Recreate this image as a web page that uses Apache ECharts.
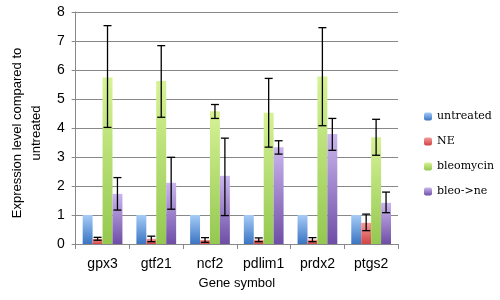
<!DOCTYPE html>
<html>
<head>
<meta charset="utf-8">
<script src="https://cdn.jsdelivr.net/npm/echarts@6/dist/echarts.min.js"></script>
<style>
html, body { margin: 0; padding: 0; background: #fff; }
#chart { width: 500px; height: 300px; }
</style>
</head>
<body>
<div id="chart"></div>
<script>
var genes = ['gpx3', 'gtf21', 'ncf2', 'pdlim1', 'prdx2', 'ptgs2'];

var untreated = [1, 1, 1, 1, 1, 1];

var ne = [0.18, 0.18, 0.14, 0.15, 0.15, 0.73];
var neLow = [0.13, 0.08, 0.06, 0.08, 0.08, 0.46];
var neHigh = [0.23, 0.27, 0.22, 0.21, 0.22, 1.03];

var bleomycin = [5.74, 5.62, 4.58, 4.53, 5.78, 3.68];
var bleomycinLow = [4.02, 4.37, 4.33, 3.34, 4.08, 3.06];
var bleomycinHigh = [7.53, 6.84, 4.81, 5.71, 7.46, 4.30];

var bleoNe = [1.73, 2.11, 2.35, 3.34, 3.79, 1.42];
var bleoNeLow = [1.17, 1.20, 0.98, 3.10, 3.23, 1.08];
var bleoNeHigh = [2.29, 2.99, 3.65, 3.56, 4.33, 1.79];

var yTicks = [0, 1, 2, 3, 4, 5, 6, 7, 8];

// bar group layout, shared by bars and error bars
var BAR_COUNT = 4;
var CAT_GAP = 0.26;

function grad(top, bottom) {
    return new echarts.graphic.LinearGradient(0, 0, 0, 1, [
        { offset: 0, color: top },
        { offset: 1, color: bottom }
    ]);
}

function errorSeries(name, barIndex, low, high) {
    var data = [];
    for (var i = 0; i < genes.length; i++) {
        data.push([i, low[i], high[i]]);
    }
    return {
        name: name,
        type: 'custom',
        z: 10,
        silent: true,
        data: data,
        encode: { x: 0, y: [1, 2] },
        renderItem: function (params, api) {
            var cat = api.value(0);
            var lo = api.coord([cat, api.value(1)]);
            var hi = api.coord([cat, api.value(2)]);
            var band = api.size([1, 0])[0];
            var total = band * (1 - CAT_GAP);
            var w = total / BAR_COUNT;
            var x = lo[0] - total / 2 + w * (barIndex + 0.5);
            var cap = 4;
            var style = { stroke: '#000', lineWidth: 1.3 };
            return {
                type: 'group',
                children: [
                    { type: 'line', shape: { x1: x, y1: hi[1], x2: x, y2: lo[1] }, style: style },
                    { type: 'line', shape: { x1: x - cap, y1: hi[1], x2: x + cap, y2: hi[1] }, style: style },
                    { type: 'line', shape: { x1: x - cap, y1: lo[1], x2: x + cap, y2: lo[1] }, style: style }
                ]
            };
        }
    };
}

function barSeries(name, values, color) {
    return {
        name: name,
        type: 'bar',
        data: values,
        barGap: '0%',
        barCategoryGap: (CAT_GAP * 100) + '%',
        itemStyle: { color: color },
        silent: true
    };
}

var chart = echarts.init(document.getElementById('chart'));

var option = {
    animation: false,
    backgroundColor: '#fff',
    grid: { left: 64, right: 102, top: 12, bottom: 56 },
    legend: {
        orient: 'vertical',
        left: 419,
        top: 106,
        itemWidth: 8,
        itemHeight: 8,
        itemGap: 14,
        data: ['untreated', 'NE', 'bleomycin', 'bleo->ne'],
        textStyle: { fontFamily: 'DejaVu Serif', fontSize: 11, color: '#000' }
    },
    xAxis: {
        type: 'category',
        data: genes,
        name: 'Gene symbol',
        nameLocation: 'middle',
        nameGap: 33,
        nameTextStyle: { fontFamily: 'Liberation Sans', fontSize: 13, color: '#000' },
        axisLine: { lineStyle: { color: '#888' } },
        axisTick: { show: true, length: 5, lineStyle: { color: '#888' } },
        axisLabel: { fontFamily: 'Liberation Sans', fontSize: 14, color: '#000', margin: 13 }
    },
    yAxis: {
        type: 'value',
        min: yTicks[0],
        max: yTicks[yTicks.length - 1],
        interval: 1,
        name: 'Expression level compared to\nuntreated',
        nameLocation: 'middle',
        nameRotate: 90,
        nameGap: 29,
        nameTextStyle: { fontFamily: 'Liberation Sans', fontSize: 13, color: '#000', lineHeight: 19, padding: [0, 10, 0, 0] },
        axisLine: { show: true, lineStyle: { color: '#888' } },
        axisTick: { show: true, length: 4, lineStyle: { color: '#888' } },
        axisLabel: { fontFamily: 'Liberation Sans', fontSize: 14, color: '#000', margin: 11 },
        splitLine: { lineStyle: { color: '#888', width: 1 } }
    },
    series: [
        barSeries('untreated', untreated, grad('#a6ccf8', '#3a74c2')),
        barSeries('NE', ne, grad('#f49a9a', '#d04444')),
        barSeries('bleomycin', bleomycin, grad('#d6f296', '#94c850')),
        barSeries('bleo->ne', bleoNe, grad('#cbb6ee', '#6e4ea6')),
        errorSeries('NE', 1, neLow, neHigh),
        errorSeries('bleomycin', 2, bleomycinLow, bleomycinHigh),
        errorSeries('bleo->ne', 3, bleoNeLow, bleoNeHigh)
    ]
};

chart.setOption(option);
</script>
</body>
</html>
